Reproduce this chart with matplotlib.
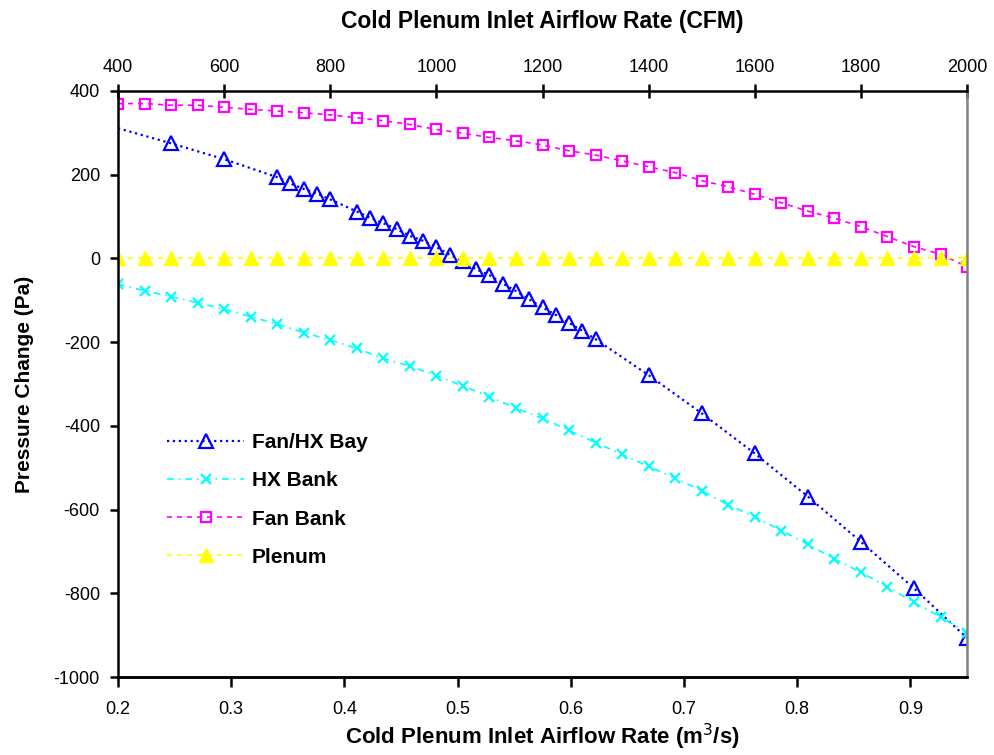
import numpy as np
import matplotlib
matplotlib.use('Agg')
import matplotlib.pyplot as plt

plt.rcParams['font.family'] = ['Liberation Sans', 'DejaVu Sans']
plt.rcParams['axes.unicode_minus'] = False

# airflow in CFM (top axis); bottom axis shows the same range in m^3/s
cfm = [400, 450, 500, 550, 600, 650, 700, 750, 800, 850, 900, 950, 1000,
       1050, 1100, 1150, 1200, 1250, 1300, 1350, 1400, 1450, 1500, 1550,
       1600, 1650, 1700, 1750, 1800, 1850, 1900, 1950, 2000]

hx_bank = [-62, -77, -91, -106, -121, -139, -157, -177, -195, -215, -239,
           -257, -280, -305, -330, -358, -382, -411, -440, -468, -497, -525,
           -555, -589, -617, -650, -683, -718, -750, -784, -822, -856, -894]

fan_bank = [370, 370, 366, 366, 361, 356, 352, 348, 343, 336, 329, 320, 308,
            299, 289, 281, 271, 257, 247, 233, 219, 205, 186, 171, 153, 133,
            113, 96, 76, 52, 28, 10, -20]

plenum = [0] * len(cfm)

# fan/HX bay was computed on its own flow grid
bay_cfm = [400, 500, 600, 700, 725, 750, 775, 800, 850, 875, 900, 925, 950,
           975, 1000, 1025, 1050, 1075, 1100, 1125, 1150, 1175, 1200, 1225,
           1250, 1275, 1300, 1400, 1500, 1600, 1700, 1800, 1900, 2000]
fan_hx_bay = [311, 275, 237, 194, 179, 166, 155, 141, 112, 97, 84, 70, 54,
              42, 27, 9, -6, -26, -40, -60, -78, -98, -117, -135, -154, -173,
              -193, -279, -370, -466, -569, -677, -788, -907]

cfm_ticks = [400, 600, 800, 1000, 1200, 1400, 1600, 1800, 2000]
m3s_ticks = [0.2, 0.3, 0.4, 0.5, 0.6, 0.7, 0.8, 0.9]
pa_ticks = [-1000, -800, -600, -400, -200, 0, 200, 400]


def cfm_to_m3s(c):
    return 0.2 + (np.asarray(c) - 400.0) * 0.75 / 1600.0


def m3s_to_cfm(q):
    return 400.0 + (np.asarray(q) - 0.2) * 1600.0 / 0.75


fig = plt.figure(figsize=(9.95, 7.55), dpi=100)
ax = fig.add_axes([0.1186, 0.1033, 0.8533, 0.7762])

ax.plot(bay_cfm, fan_hx_bay, color='#0000FF', ls=':', lw=1.6,
        marker='^', ms=9.5, mfc='none', mec='#0000FF', mew=1.6,
        markevery=list(range(1, len(bay_cfm))), label='Fan/HX Bay')
ax.plot(cfm, hx_bank, color='#00FFFF', ls=(0, (4, 3, 1, 3)), lw=1.2,
        marker='x', ms=7, mew=1.6, label='HX Bank')
ax.plot(cfm, fan_bank, color='#FF00FF', ls=(0, (3, 3)), lw=1.2,
        marker='s', ms=7, mfc='none', mec='#FF00FF', mew=1.6, label='Fan Bank')
ax.plot(cfm, plenum, color='#FFFF00', ls=(0, (3, 3)), lw=1.2,
        marker='^', ms=10, mfc='#FFFF00', mec='#FFFF00', label='Plenum')

ax.set_xlim(400, 2000)
ax.set_ylim(-1000, 400)
ax.set_yticks(pa_ticks)
ax.set_xticks(cfm_ticks)
ax.xaxis.tick_top()
ax.xaxis.set_label_position('top')
ax.set_xlabel('Cold Plenum Inlet Airflow Rate (CFM)', fontsize=16.5,
              fontweight='bold', labelpad=22)
ax.set_ylabel('Pressure Change (Pa)', fontsize=15, fontweight='bold',
              labelpad=14)
ax.tick_params(axis='x', which='major', direction='inout', length=10,
               width=1.8, labelsize=13, pad=6)
ax.tick_params(axis='y', which='major', direction='out', length=6,
               width=1.8, labelsize=13, pad=7)

sec = ax.secondary_xaxis('bottom', functions=(cfm_to_m3s, m3s_to_cfm))
sec.set_xticks(m3s_ticks)
sec.set_xticklabels([f'{t:.1f}' for t in m3s_ticks])
sec.tick_params(direction='out', length=7, width=1.8, labelsize=13, pad=10)
sec.set_xlabel('Cold Plenum Inlet Airflow Rate (m$^3$/s)', fontsize=16,
               fontweight='bold', labelpad=3)
sec.spines['bottom'].set_linewidth(1.8)

for side in ['left', 'top', 'bottom']:
    ax.spines[side].set_linewidth(1.8)
ax.spines['right'].set_color('#808080')
ax.spines['right'].set_linewidth(1.8)

leg = ax.legend(loc='upper left', bbox_to_anchor=(0.036, 0.448), frameon=False,
                numpoints=1, handlelength=3.7, handletextpad=0.35,
                labelspacing=0.92, prop={'weight': 'bold', 'size': 15})

fig.savefig('out.png', dpi=100)
